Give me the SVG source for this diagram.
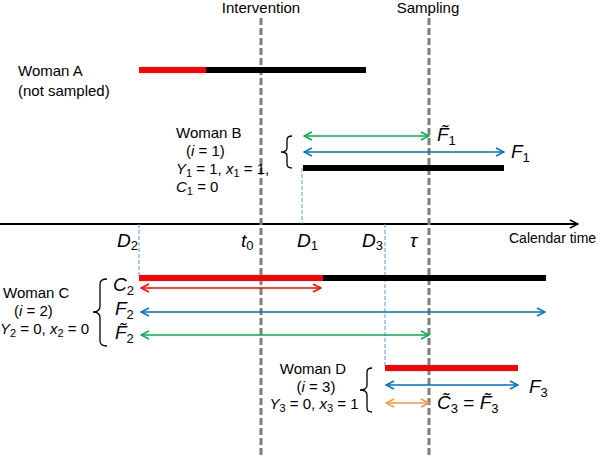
<svg xmlns="http://www.w3.org/2000/svg" width="600" height="458" viewBox="0 0 600 458">
<style>
text{font-family:"Liberation Sans",Arial,sans-serif;font-size:15px;fill:#000}
.m{font-style:italic;font-size:19px}
.s{font-size:13px;font-style:normal}
.sub{font-size:11px}
.mi{font-style:italic}
.ct{font-size:14px}
.vline{stroke:#7f7f7f;stroke-width:3;stroke-dasharray:7 3;fill:none}
.dl{stroke:#5b9bd5;stroke-width:1;stroke-dasharray:4 2;fill:none}
.bar{stroke-width:6;fill:none}
.arr{stroke-width:1.5;fill:none}
.brace{stroke:#000;stroke-width:1.3;fill:none}
</style>
<defs>
<marker id="ak" viewBox="0 0 10 10" refX="9" refY="5" markerWidth="10" markerHeight="10" markerUnits="userSpaceOnUse" orient="auto-start-reverse"><path d="M1,1 L9,5 L1,9" fill="none" stroke="#000" stroke-width="1.5"/></marker>
<marker id="ag" viewBox="0 0 10 10" refX="9" refY="5" markerWidth="10" markerHeight="10" markerUnits="userSpaceOnUse" orient="auto-start-reverse"><path d="M1,1 L9,5 L1,9" fill="none" stroke="#00b050" stroke-width="1.5"/></marker>
<marker id="ab" viewBox="0 0 10 10" refX="9" refY="5" markerWidth="10" markerHeight="10" markerUnits="userSpaceOnUse" orient="auto-start-reverse"><path d="M1,1 L9,5 L1,9" fill="none" stroke="#0070c0" stroke-width="1.5"/></marker>
<marker id="ar" viewBox="0 0 10 10" refX="9" refY="5" markerWidth="10" markerHeight="10" markerUnits="userSpaceOnUse" orient="auto-start-reverse"><path d="M1,1 L9,5 L1,9" fill="none" stroke="#ff0000" stroke-width="1.5"/></marker>
<marker id="ao" viewBox="0 0 10 10" refX="9" refY="5" markerWidth="10" markerHeight="10" markerUnits="userSpaceOnUse" orient="auto-start-reverse"><path d="M1,1 L9,5 L1,9" fill="none" stroke="#f79646" stroke-width="1.5"/></marker>
</defs>
<rect width="600" height="458" fill="#fff"/>

<g id="timeline">
<line x1="0" y1="224" x2="578" y2="224" stroke="#000" stroke-width="2" marker-end="url(#ak)"/>
<text x="509" y="243" class="ct">Calendar time</text>
<line class="vline" x1="261" y1="18" x2="261" y2="458"/>
<line class="vline" x1="429" y1="18" x2="429" y2="458"/>
<text x="261" y="13" text-anchor="middle">Intervention</text>
<text x="428" y="13" text-anchor="middle">Sampling</text>
<text x="117" y="247" class="m">D<tspan class="s" dy="3">2</tspan></text>
<text x="241" y="247" class="m">t<tspan class="s" dy="3">0</tspan></text>
<text x="297" y="247" class="m">D<tspan class="s" dy="3">1</tspan></text>
<text x="362" y="247" class="m">D<tspan class="s" dy="3">3</tspan></text>
<text x="410" y="247" class="m" font-family="Liberation Serif">τ</text>
</g>

<g id="connectors">
<line class="dl" x1="302" y1="168" x2="302" y2="224"/>
<line class="dl" x1="139" y1="224" x2="139" y2="278"/>
<line class="dl" x1="385" y1="224" x2="385" y2="368"/>
</g>

<g id="womanA">
<text x="18" y="76">Woman A</text>
<text x="18" y="96">(not sampled)</text>
<line class="bar" x1="139" y1="70" x2="206" y2="70" stroke="#ff0000"/>
<line class="bar" x1="206" y1="70" x2="366" y2="70" stroke="#000"/>
</g>

<g id="womanB">
<text x="176" y="138">Woman B</text>
<text x="186" y="156">(<tspan class="mi">i</tspan> = 1)</text>
<text x="176" y="174"><tspan class="mi">Y</tspan><tspan class="sub" dy="3">1</tspan><tspan dy="-3"> = 1, </tspan><tspan class="mi">x</tspan><tspan class="sub" dy="3">1</tspan><tspan dy="-3"> = 1,</tspan></text>
<text x="176" y="192"><tspan class="mi">C</tspan><tspan class="sub" dy="3">1</tspan><tspan dy="-3"> = 0</tspan></text>
<path class="brace" d="M292,136 Q287,136 287,140 L287,148 Q287,152 281,152 Q287,152 287,156 L287,164 Q287,168 292,168"/>
<line class="arr" x1="304" y1="136" x2="429" y2="136" stroke="#00b050" marker-start="url(#ag)" marker-end="url(#ag)"/>
<line class="arr" x1="304" y1="152" x2="504" y2="152" stroke="#0070c0" marker-start="url(#ab)" marker-end="url(#ab)"/>
<line class="bar" x1="303" y1="168" x2="504" y2="168" stroke="#000"/>
<text x="437" y="141" class="m">F&#x303;<tspan class="s" dy="4">1</tspan></text>
<text x="511" y="158" class="m">F<tspan class="s" dy="4">1</tspan></text>
</g>

<g id="womanC">
<text x="3" y="298">Woman C</text>
<text x="14" y="316">(<tspan class="mi">i</tspan> = 2)</text>
<text x="0" y="334"><tspan class="mi">Y</tspan><tspan class="sub" dy="3">2</tspan><tspan dy="-3"> = 0, </tspan><tspan class="mi">x</tspan><tspan class="sub" dy="3">2</tspan><tspan dy="-3"> = 0</tspan></text>
<path class="brace" d="M107,279 Q100,279 100,284 L100,306 Q100,312 93,312 Q100,312 100,318 L100,341 Q100,346 107,346"/>
<line class="bar" x1="139" y1="278" x2="323" y2="278" stroke="#ff0000"/>
<line class="bar" x1="323" y1="278" x2="546" y2="278" stroke="#000"/>
<line class="arr" x1="141" y1="288" x2="321" y2="288" stroke="#ff0000" marker-start="url(#ar)" marker-end="url(#ar)"/>
<line class="arr" x1="141" y1="312" x2="545" y2="312" stroke="#0070c0" marker-start="url(#ab)" marker-end="url(#ab)"/>
<line class="arr" x1="141" y1="335" x2="429" y2="335" stroke="#00b050" marker-start="url(#ag)" marker-end="url(#ag)"/>
<text x="113" y="291" class="m">C<tspan class="s" dy="4">2</tspan></text>
<text x="115" y="315" class="m">F<tspan class="s" dy="4">2</tspan></text>
<text x="115" y="339" class="m">F&#x303;<tspan class="s" dy="4">2</tspan></text>
</g>

<g id="womanD">
<text x="313" y="374" text-anchor="middle">Woman D</text>
<text x="316" y="392" text-anchor="middle">(<tspan class="mi">i</tspan> = 3)</text>
<text x="314" y="409" text-anchor="middle"><tspan class="mi">Y</tspan><tspan class="sub" dy="3">3</tspan><tspan dy="-3"> = 0, </tspan><tspan class="mi">x</tspan><tspan class="sub" dy="3">3</tspan><tspan dy="-3"> = 1</tspan></text>
<path class="brace" d="M372,368 Q367,368 367,372 L367,385 Q367,390 360,390 Q367,390 367,395 L367,408 Q367,412 372,412"/>
<line class="bar" x1="385" y1="368" x2="518" y2="368" stroke="#ff0000"/>
<line class="arr" x1="386" y1="385" x2="518" y2="385" stroke="#0070c0" marker-start="url(#ab)" marker-end="url(#ab)"/>
<line class="arr" x1="386" y1="403" x2="429" y2="403" stroke="#f79646" marker-start="url(#ao)" marker-end="url(#ao)"/>
<text x="529" y="393" class="m">F<tspan class="s" dy="4">3</tspan></text>
<text x="437" y="409" class="m">C&#x303;<tspan class="s" dy="4">3</tspan><tspan dy="-4" font-style="normal"> = </tspan>F&#x303;<tspan class="s" dy="4">3</tspan></text>
</g>
</svg>
